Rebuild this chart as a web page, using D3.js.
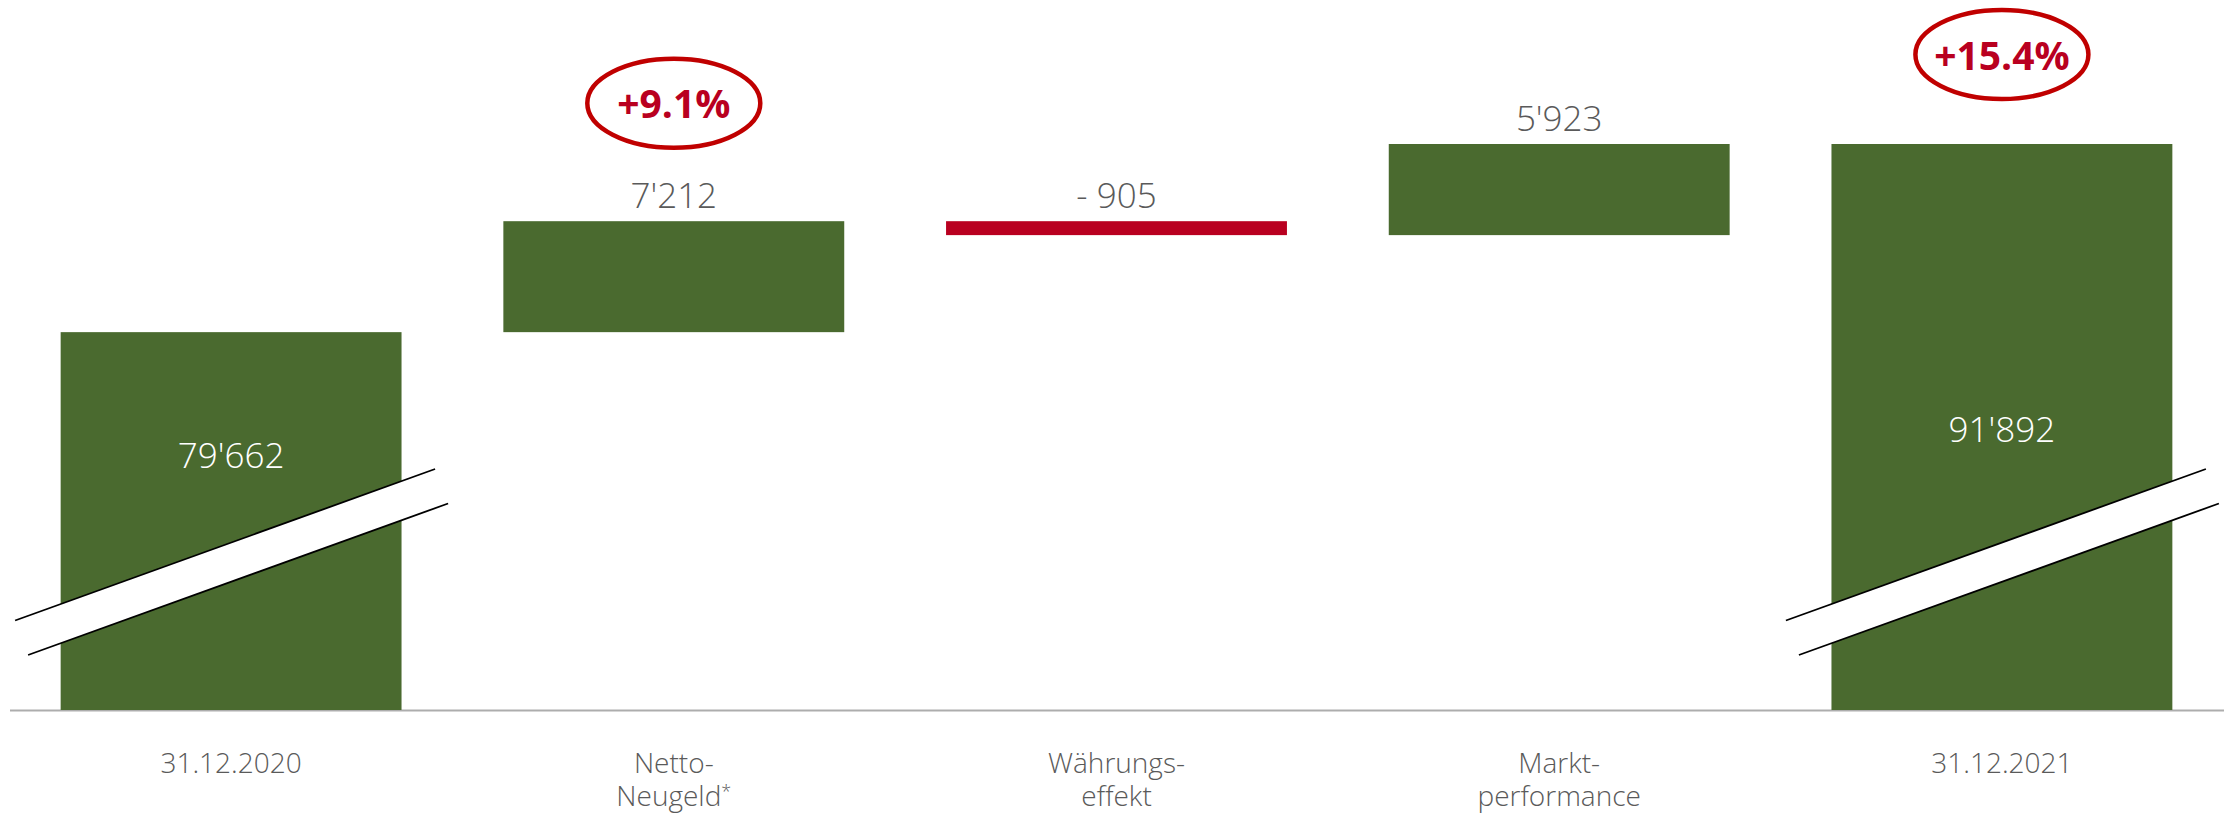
<!DOCTYPE html>
<html>
<head>
<meta charset="utf-8">
<script src="https://cdn.jsdelivr.net/npm/d3@7"></script>
<style>
  html, body { margin: 0; padding: 0; background: #fff; }
  svg { display: block; font-family: "Open Sans", sans-serif; }
</style>
</head>
<body>
<div id="viz-container"></div>
<script>
// waterfall data
var categories = ["31.12.2020", "Netto-Neugeld*", "Währungseffekt", "Marktperformance", "31.12.2021"];
var categoryLines = [["31.12.2020"], ["Netto-", "Neugeld*"], ["Währungs-", "effekt"], ["Markt-", "performance"], ["31.12.2021"]];
var values = [79662, 7212, -905, 5923, 91892];
var kinds = ["total", "delta", "delta", "delta", "total"];
var valueLabels = ["79'662", "7'212", "- 905", "5'923", "91'892"];
var growthCats = ["Netto-Neugeld*", "31.12.2021"];
var growthLabels = ["+9.1%", "+15.4%"];

var width = 2233, height = 814;
var green = "#4a6a2f", red = "#b90020", ring = "#c00000", grey = "#5a5a5a";

var svg = d3.select('#viz-container')
  .append('svg')
  .attr("width", width)
  .attr("height", height)

var x = d3.scaleBand()
  .domain(categories)
  .range([0, width])
  .paddingInner(0.23)
  .paddingOuter(0.137)

// axis is cut, so the domain does not start at zero
var y = d3.scaleLinear()
  .domain([55100, 91892])
  .range([710, 144])

// running totals for floating bars
var bars = [];
var running = 0;
values.forEach(function (v, i) {
  if (kinds[i] == "total") {
    bars.push({ cat: categories[i], y0: y.domain()[0], y1: v, v: v, i: i });
    running = v;
  } else {
    bars.push({ cat: categories[i], y0: running, y1: running + v, v: v, i: i });
    running = running + v;
  }
});

svg.append('line')
  .attr("x1", 10)
  .attr("x2", 2224)
  .attr("y1", 710.5)
  .attr("y2", 710.5)
  .style("stroke", "#adadad")
  .style("stroke-width", 2)

svg.append('g')
  .selectAll("rect")
  .data(bars)
  .enter()
  .append("rect")
  .attr("x", function (d) { return x(d.cat); })
  .attr("width", x.bandwidth())
  .attr("y", function (d) { return y(Math.max(d.y0, d.y1)); })
  .attr("height", function (d) { return Math.abs(y(d.y0) - y(d.y1)); })
  .style("fill", function (d) { return d.v < 0 ? red : green; })

// axis break marks across the total bars
var totals = bars.filter(function (d) { return kinds[d.i] == "total"; });
var brk = svg.append('g')
  .selectAll("g")
  .data(totals)
  .enter()
  .append("g")
  .attr("transform", function (d) {
    return "translate(" + (x(d.cat) + x.bandwidth() / 2) + ",0)"
  })

brk.append("polygon")
  .attr("points", "-216,620.5 204,469 217,503.5 -203,655")
  .style("fill", "#fff")

brk.append("line")
  .attr("x1", -216).attr("y1", 620.5).attr("x2", 204).attr("y2", 469)
  .style("stroke", "#000").style("stroke-width", 1.8)

brk.append("line")
  .attr("x1", -203).attr("y1", 655).attr("x2", 217).attr("y2", 503.5)
  .style("stroke", "#000").style("stroke-width", 1.8)

// labels inside total bars, above the break
var innerLift = [75, 101];
brk.append("text")
  .attr("y", function (d, i) { return 542.6 - innerLift[i]; })
  .attr("text-anchor", "middle")
  .style("font-size", "35px")
  .style("font-weight", 300)
  .style("fill", "#fff")
  .text(function (d) { return valueLabels[d.i]; })

// labels over the delta bars
var deltas = bars.filter(function (d) { return kinds[d.i] == "delta"; });
svg.append('g')
  .selectAll("text")
  .data(deltas)
  .enter()
  .append("text")
  .attr("x", function (d) { return x(d.cat) + x.bandwidth() / 2; })
  .attr("y", function (d) { return y(Math.max(d.y0, d.y1)) - 13; })
  .attr("text-anchor", "middle")
  .style("font-size", "35px")
  .style("font-weight", 300)
  .style("fill", grey)
  .text(function (d) { return valueLabels[d.i]; })

// growth rings
var ringLift = [118, 89.5];
var rings = svg.append('g')
  .selectAll("g")
  .data(growthCats)
  .enter()
  .append("g")
  .attr("transform", function (d, i) {
    var b = bars[categories.indexOf(d)];
    var top = y(Math.max(b.y0, b.y1));
    return "translate(" + (x(d) + x.bandwidth() / 2) + ", " + (top - ringLift[i]) + ")"
  })

rings.append("ellipse")
  .attr("rx", 86.5)
  .attr("ry", 44.5)
  .style("fill", "none")
  .style("stroke", ring)
  .style("stroke-width", 4.5)

rings.append("text")
  .attr("y", 15)
  .attr("text-anchor", "middle")
  .style("font-size", "39px")
  .style("font-weight", "bold")
  .style("fill", red)
  .text(function (d, i) { return growthLabels[i]; })

// category labels, one text per line
var lines = [];
categories.forEach(function (c, i) {
  categoryLines[i].forEach(function (t, j) {
    lines.push({ cat: c, text: t, row: j });
  });
});

var cat = svg.append('g')
  .selectAll("text")
  .data(lines)
  .enter()
  .append("text")
  .attr("x", function (d) { return x(d.cat) + x.bandwidth() / 2; })
  .attr("y", function (d) { return 773 + d.row * 33; })
  .attr("text-anchor", "middle")
  .style("font-size", "28px")
  .style("font-weight", 300)
  .style("fill", grey)

cat.each(function (d) {
  var t = d3.select(this);
  var star = d.text.slice(-1) == "*";
  t.append("tspan").text(star ? d.text.slice(0, -1) : d.text);
  if (star) {
    t.append("tspan")
      .attr("dy", -8)
      .style("font-size", "18px")
      .text("*");
  }
});
</script>
</body>
</html>
